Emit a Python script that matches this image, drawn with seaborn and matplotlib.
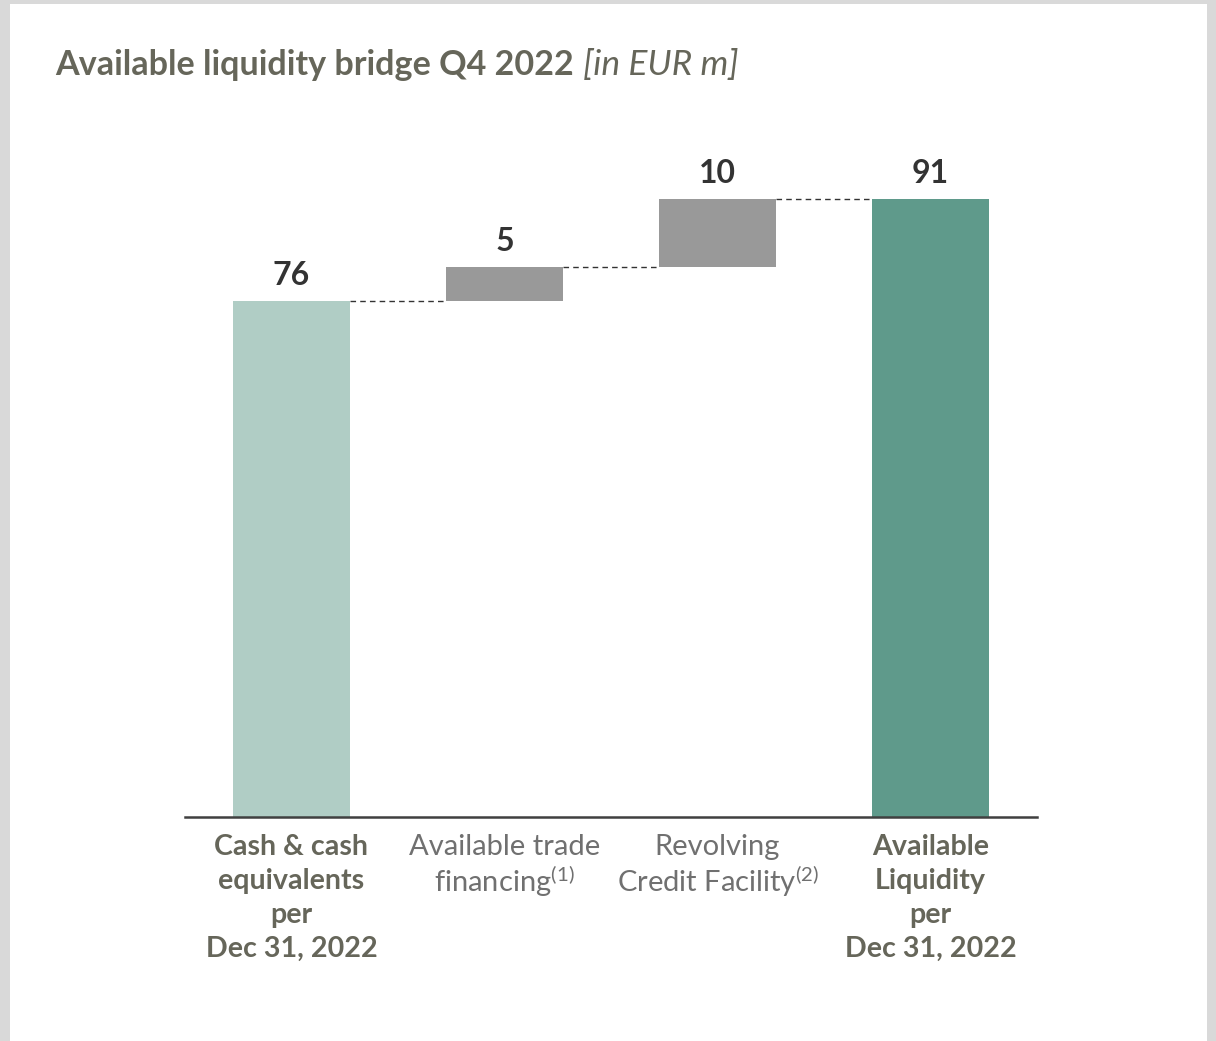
import matplotlib
matplotlib.use("Agg")
import matplotlib.pyplot as plt
from matplotlib.patches import Rectangle
import seaborn as sns
import pandas as pd

categories = ["Cash & cash\nequivalents\nper\nDec 31, 2022",
              "Available trade\nfinancing$^{\\mathrm{(1)}}$",
              "Revolving\nCredit Facility$^{\\mathrm{(2)}}$",
              "Available\nLiquidity\nper\nDec 31, 2022"]
values = [76, 5, 10, 91]
bottoms = [0, 76, 81, 0]
value_labels = ["76", "5", "10", "91"]
bold_ticks = [True, False, False, True]
colors = ["#b0cdc5", "#999999", "#999999", "#5f9a8b"]

sns.set_theme(style="white")
FONT = "Lato"
plt.rcParams["font.family"] = [FONT, "DejaVu Sans"]
plt.rcParams["mathtext.fontset"] = "custom"
plt.rcParams["mathtext.rm"] = FONT
plt.rcParams["mathtext.it"] = FONT + ":italic"
plt.rcParams["mathtext.bf"] = FONT + ":bold"

W, H = 1216, 1041
fig = plt.figure(figsize=(W / 100, H / 100), dpi=100)
fig.patch.set_facecolor("#d9d9d9")
fig.patches.append(Rectangle((10 / W, 0), (1207 - 10) / W, (H - 4) / H,
                             transform=fig.transFigure, facecolor="white",
                             edgecolor="none", zorder=-5))

ax_l, ax_r, ax_b, ax_t = 185, 1037, 817, 138
ax = fig.add_axes([ax_l / W, 1 - ax_b / H, (ax_r - ax_l) / W, (ax_b - ax_t) / H])
ax.set_zorder(1)
ax.set_facecolor("none")

df = pd.DataFrame({"cat": categories, "val": values})
sns.barplot(data=df, x="cat", y="val", hue="cat", palette=colors, width=0.553,
            saturation=1, legend=False, ax=ax, edgecolor="none")

bar_w = 0.553
for patch, b in zip(ax.patches, bottoms):
    patch.set_y(b)

ax.set_xlim(-0.5, 3.5)
ax.set_ylim(0, 100)

# connectors
tops = [b + v for b, v in zip(bottoms, values)]
for i in range(len(values) - 1):
    ax.plot([i + bar_w / 2, i + 1 - bar_w / 2], [tops[i], tops[i]],
            color="#333333", lw=1.0, ls=(0, (4, 3)), zorder=1)

# value labels
for i, (t, lab) in enumerate(zip(tops, value_labels)):
    ax.annotate(lab, (i, t), xytext=(0, 8), textcoords="offset points",
                ha="center", va="bottom", fontsize=23, fontweight="bold",
                color="#333333")

ax.set_xlabel("")
ax.set_ylabel("")
ax.set_yticks([])
for s in ["top", "right", "left"]:
    ax.spines[s].set_visible(False)
ax.spines["bottom"].set_color("#404040")
ax.spines["bottom"].set_linewidth(1.8)
ax.tick_params(axis="x", length=0, pad=12)
ax.set_xticks(range(len(categories)))
ax.set_xticklabels(categories, fontsize=21, color="#66665a", linespacing=1.13)
for lbl, b in zip(ax.get_xticklabels(), bold_ticks):
    if b:
        lbl.set_fontweight("bold")
        lbl.set_fontsize(20.6)
        lbl.set_linespacing(1.38)
    else:
        lbl.set_fontweight("normal")
        lbl.set_color("#707070")

t1 = fig.text(55 / W, 1 - 75 / H, "Available liquidity bridge Q4 2022",
              fontsize=24.6, fontweight="bold", color="#66665a", va="baseline")
fig.canvas.draw()
bb = t1.get_window_extent()
fig.text((bb.x1 + 9) / W, 1 - 75 / H, "[in EUR m]", fontsize=25.5,
         fontstyle="italic", color="#66665a", va="baseline")

fig.savefig("out.png", dpi=100, facecolor=fig.get_facecolor())
